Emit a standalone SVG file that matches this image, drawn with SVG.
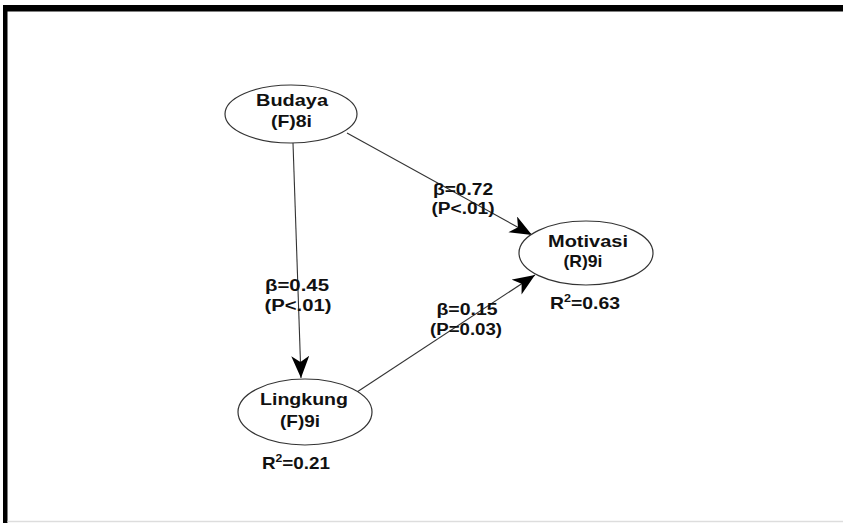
<svg xmlns="http://www.w3.org/2000/svg" width="843" height="523" viewBox="0 0 843 523">
<defs>
<style>
.node ellipse{fill:#fff;stroke:#333;stroke-width:1.2}
.t{font-family:"Liberation Sans",Arial,sans-serif;font-weight:bold;font-size:17px;fill:#111;text-anchor:middle}
.b{font-size:16px}
.edge{stroke:#333;stroke-width:1.1;fill:none}
</style>
<marker id="arr" markerUnits="userSpaceOnUse" markerWidth="26" markerHeight="22" refX="22" refY="9" orient="auto">
<path d="M0,0 L22,9 L0,18 L6,9 Z" fill="#000"/>
</marker>
</defs>
<rect x="0" y="0" width="843" height="523" fill="#fff"/>
<g id="frame">
<rect x="3" y="5" width="840" height="6.5" fill="#000"/>
<rect x="3" y="5" width="4.5" height="518" fill="#000"/>
<line x1="7.5" y1="521.5" x2="843" y2="521.5" stroke="#ddd" stroke-width="1.5"/>
</g>
<g id="connectors">
<line class="edge" x1="293" y1="143" x2="301" y2="378" marker-end="url(#arr)"/>
<line class="edge" x1="347" y1="133" x2="532" y2="235" marker-end="url(#arr)"/>
<line class="edge" x1="357" y1="392" x2="535" y2="275" marker-end="url(#arr)"/>
<text class="t b" x="297" y="291" textLength="64" lengthAdjust="spacingAndGlyphs">β=0.45</text>
<text class="t b" x="298" y="311" textLength="67" lengthAdjust="spacingAndGlyphs">(P&lt;.01)</text>
<text class="t b" x="463" y="195" textLength="60" lengthAdjust="spacingAndGlyphs">β=0.72</text>
<text class="t b" x="463" y="214" textLength="63" lengthAdjust="spacingAndGlyphs">(P&lt;.01)</text>
<text class="t b" x="467" y="315" textLength="61" lengthAdjust="spacingAndGlyphs">β=0.15</text>
<text class="t b" x="466" y="335" textLength="72" lengthAdjust="spacingAndGlyphs">(P=0.03)</text>
</g>
<g id="budaya" class="node">
<ellipse cx="291" cy="114" rx="66" ry="29"/>
<text class="t" x="292" y="106" textLength="72" lengthAdjust="spacingAndGlyphs">Budaya</text>
<text class="t" x="291.5" y="127" textLength="41" lengthAdjust="spacingAndGlyphs">(F)8i</text>
</g>
<g id="motivasi" class="node">
<ellipse cx="586" cy="253" rx="67" ry="32"/>
<text class="t" x="588" y="246.5" textLength="80" lengthAdjust="spacingAndGlyphs">Motivasi</text>
<text class="t" x="583" y="267" textLength="39" lengthAdjust="spacingAndGlyphs">(R)9i</text>
<text class="t" x="585" y="309" textLength="70" lengthAdjust="spacingAndGlyphs">R<tspan font-size="11" dy="-7">2</tspan><tspan dy="7">=0.63</tspan></text>
</g>
<g id="lingkung" class="node">
<ellipse cx="305" cy="412" rx="67" ry="33"/>
<text class="t" x="304" y="405" textLength="88" lengthAdjust="spacingAndGlyphs">Lingkung</text>
<text class="t" x="300" y="427" textLength="40" lengthAdjust="spacingAndGlyphs">(F)9i</text>
<text class="t" x="296" y="469" textLength="68" lengthAdjust="spacingAndGlyphs">R<tspan font-size="11" dy="-7">2</tspan><tspan dy="7">=0.21</tspan></text>
</g>
</svg>
